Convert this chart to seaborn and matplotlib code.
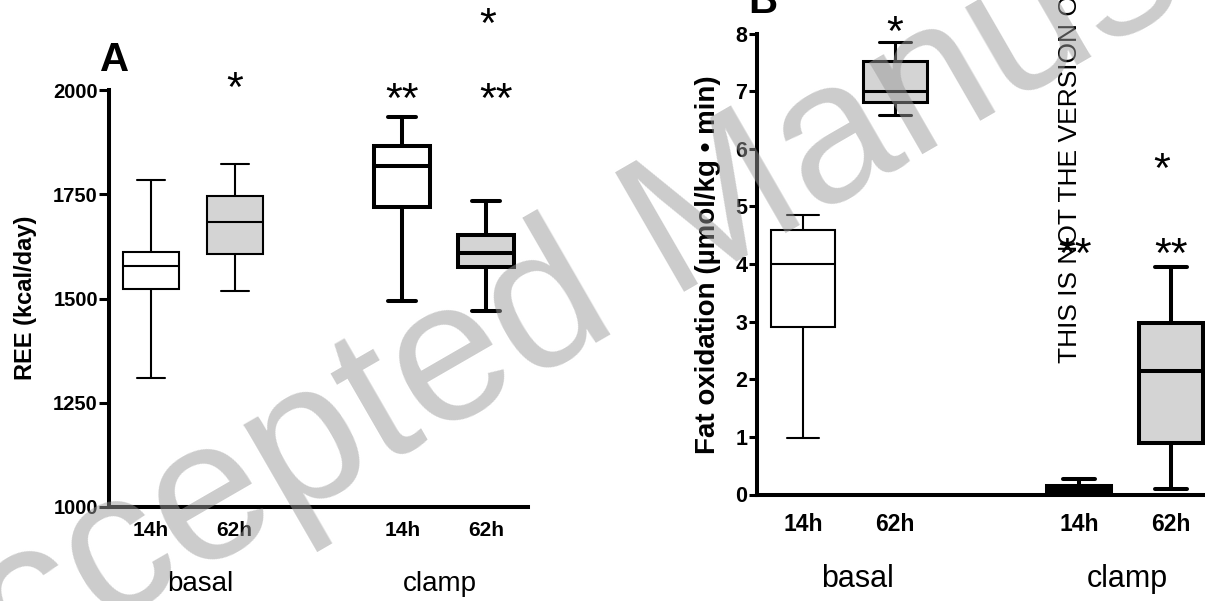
import numpy as np
import pandas as pd
import matplotlib
matplotlib.use("Agg")
import matplotlib.pyplot as plt
import seaborn as sns

# ---------------- data ----------------
timepoints = ["14h", "62h", "14h", "62h"]
positions = [0, 1, 3, 4]
group_labels = ["basal", "clamp"]

# box summaries: [lower whisker, Q1, median, Q3, upper whisker]
ree_basal_14h = [1309, 1523, 1579, 1611, 1784]
ree_basal_62h = [1519, 1607, 1684, 1747, 1822]
ree_clamp_14h = [1495, 1719, 1818, 1866, 1935]
ree_clamp_62h = [1471, 1576, 1608, 1652, 1735]

fat_basal_14h = [0.98, 2.90, 4.01, 4.59, 4.85]
fat_basal_62h = [6.59, 6.82, 7.01, 7.52, 7.85]
fat_clamp_14h = [0.00, 0.04, 0.10, 0.15, 0.27]
fat_clamp_62h = [0.10, 0.90, 2.15, 2.98, 3.95]

ree_ticks = [1000, 1250, 1500, 1750, 2000]
fat_ticks = [0, 1, 2, 3, 4, 5, 6, 7, 8]

# significance marks (text, x position, y value)
ree_marks = ["*", "**", "**", "*"]
ree_mark_x = [1, 3, 4.12, 4.02]
ree_mark_y = [2019, 1993, 1993, 2173]
fat_marks = ["*", "**", "**", "*"]
fat_mark_x = [1, 2.96, 4.0, 3.9]
fat_mark_y = [8.13, 4.28, 4.28, 5.76]

# ---------------- style ----------------
sns.set_style("white")
plt.rcParams["font.family"] = ["Liberation Sans", "DejaVu Sans"]
for k in ["text.color", "axes.labelcolor", "xtick.color", "ytick.color", "axes.edgecolor"]:
    plt.rcParams[k] = "black"

W, H = 1205, 601
fig = plt.figure(figsize=(W / 100, H / 100), dpi=100)

GRAY = "#d4d4d4"
fills = ["white", GRAY, "white", GRAY]


def px_axes(left, right, top, bottom):
    return fig.add_axes([left / W, (H - bottom) / H, (right - left) / W, (bottom - top) / H])


def draw_panel(ax, boxes, lws, widths, ylim, yticks, ytick_fs, xtick_fs, xpad, tick_len):
    for pos, vals, fc, lw in zip(positions, boxes, fills, lws):
        df = pd.DataFrame({"pos": [pos] * len(vals), "value": vals})
        sns.boxplot(data=df, x="pos", y="value", native_scale=True, whis=(0, 100),
                    width=widths, color=fc, linecolor="black", linewidth=lw,
                    saturation=1, fliersize=0, ax=ax)
    ax.set_xlim(-0.5, 4.5)
    ax.set_ylim(*ylim)
    ax.set_yticks(yticks)
    ax.set_yticklabels([str(t) for t in yticks], fontweight="bold", fontsize=ytick_fs)
    ax.set_xticks(positions)
    ax.set_xticklabels(timepoints, fontweight="bold", fontsize=xtick_fs)
    ax.set_xlabel("")
    ax.set_ylabel("")
    for s in ["top", "right"]:
        ax.spines[s].set_visible(False)
    for s in ["left", "bottom"]:
        ax.spines[s].set_linewidth(2.9)
        ax.spines[s].set_color("black")
        ax.spines[s].set_capstyle("projecting")
    ax.tick_params(axis="y", direction="out", length=tick_len, width=2.2, pad=1,
                   color="black", labelcolor="black", left=True)
    ax.tick_params(axis="x", length=0, pad=xpad, labelcolor="black")
    ax.patch.set_alpha(0)


star_fs = 31
star_off = -0.44 * star_fs

# ---------------- panel A ----------------
axA = px_axes(109, 528, 90, 507)
draw_panel(axA, [ree_basal_14h, ree_basal_62h, ree_clamp_14h, ree_clamp_62h],
           [1.5, 1.5, 2.9, 2.9], 0.67, (1000, 2000), ree_ticks, 14.5, 15, 10, 7)
for s, x, y in zip(ree_marks, ree_mark_x, ree_mark_y):
    axA.annotate(s, (x, y), xytext=(0, star_off), textcoords="offset points",
                 ha="center", va="baseline", fontsize=star_fs, annotation_clip=False)
for lab, xc in zip(group_labels, [0.585, 3.45]):
    axA.text(xc, -0.185, lab, transform=axA.get_xaxis_transform(), ha="center",
             va="center", fontsize=20)
fig.text(26 / W, (H - 298) / H, "REE (kcal/day)", rotation=90, ha="center", va="center",
         fontsize=17, fontweight="bold")
fig.text(100 / W, (H - 71) / H, "A", ha="left", va="baseline", fontsize=29, fontweight="bold")

# ---------------- panel B ----------------
axB = px_axes(757, 757 + 5 * 92, 33.7, 494.5)
draw_panel(axB, [fat_basal_14h, fat_basal_62h, fat_clamp_14h, fat_clamp_62h],
           [1.5, 2.2, 2.9, 2.9], 0.69, (0, 8), fat_ticks, 15.5, 16.5, 13, 6)
for s, x, y in zip(fat_marks, fat_mark_x, fat_mark_y):
    axB.annotate(s, (x, y), xytext=(0, star_off), textcoords="offset points",
                 ha="center", va="baseline", fontsize=star_fs, annotation_clip=False)
for lab, xc in zip(group_labels, [0.59, 3.52]):
    axB.text(xc, -0.183, lab, transform=axB.get_xaxis_transform(), ha="center",
             va="center", fontsize=22)
fig.text(708 / W, (H - 265) / H, "Fat oxidation (\u00b5mol/kg \u2022 min)", rotation=90,
         ha="center", va="center", fontsize=20, fontweight="bold")
fig.text(748 / W, (H - 13) / H, "B", ha="left", va="baseline", fontsize=29, fontweight="bold")

# vertical disclaimer
fig.text(1070 / W, (H - 363) / H, "THIS IS NOT THE VERSION OF RECORD", rotation=90,
         ha="center", va="bottom", fontsize=19)

# watermark
fig.text(-100 / W, (H - 745) / H, "Accepted Manuscript", rotation=30, rotation_mode="anchor",
         ha="left", va="baseline", fontsize=144, color="#999999", alpha=0.5, zorder=10)

fig.savefig("out.png", dpi=100)
